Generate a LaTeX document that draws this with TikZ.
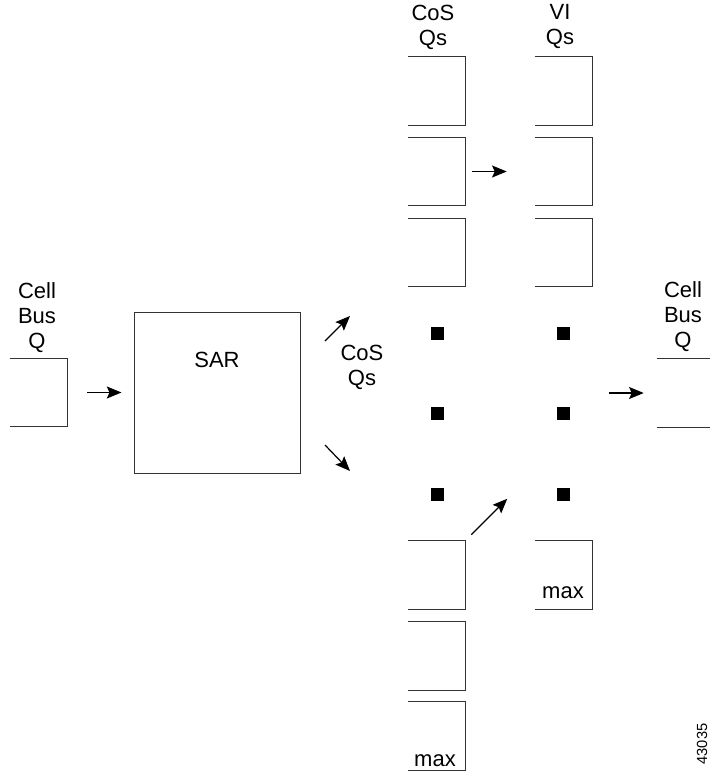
\documentclass[tikz,border=0pt]{standalone}
\usepackage{fontspec}
\setmainfont{Liberation Sans}
\usetikzlibrary{arrows.meta, positioning}
\definecolor{edgecolor}{HTML}{333333}

\begin{document}
\begin{tikzpicture}[
    x=0.75pt, y=-0.75pt,
    every node/.style={font=\fontsize{16.5}{18.75}\selectfont},
    lab/.style={align=center, inner sep=0pt},
    slot/.style={minimum width=42.75pt, minimum height=51pt, inner sep=0pt},
    edge/.style={draw=edgecolor, line width=0.75pt},
    flow/.style={line width=0.9pt, -{Stealth[length=11pt, width=9pt, inset=2pt]}},
    dotbox/.style={fill=black, minimum size=9.75pt, inner sep=0pt},
]
\useasboundingbox (0,0) rectangle (710,772);

% queues, open on the left
\foreach \n/\x/\y in {inq/38.5/392.5, cosA/436.5/91, cosB/436.5/171.5, cosC/436.5/252.5,
    viA/563.5/91, viB/563.5/171.5, viC/563.5/252.5,
    cosD/436.5/575, cosE/436.5/656, cosF/436.5/736, viD/563.5/575}{
    \node[slot] (\n) at (\x, \y) {};
    \draw[edge] (\n.north west) -- (\n.north east) -- (\n.south east) -- (\n.south west);
}
\node[lab, anchor=base] (maxvi) at (563, 598) {max};
\node[lab, anchor=base] (maxcos) at (435, 766) {max};

% outgoing queue, open on both sides
\node[slot, minimum width=39.75pt] (outq) at (683.5, 393) {};
\draw[edge] (outq.north west) -- (outq.north east);
\draw[edge] (outq.south west) -- (outq.south east);

% segmentation box
\node[edge, minimum width=124.5pt, minimum height=120.75pt, inner sep=0pt] (sar) at (217, 392.5) {};
\node[lab] (sartext) at (217, 360) {SAR};

% labels
\node[lab] (inlab) at (37, 318) {Cell\\Bus\\Q};
\node[lab] (outlab) at (683, 317) {Cell\\Bus\\Q};
\node[lab] (coslab) at (433, 27) {CoS\\Qs};
\node[lab] (vilab) at (560, 27) {VI\\Qs};
\node[lab] (midlab) at (362, 367) {CoS\\Qs};

% more queues to come
\foreach \x in {437, 563}{
    \foreach \y in {333, 413, 494}{
        \node[dotbox] (d\x\y) at (\x, \y) {};
    }
}

% cell flow
\coordinate (upA) at (325, 341);
\coordinate (upB) at (350, 316);
\coordinate (dnA) at (325, 445);
\coordinate (dnB) at (350, 471);
\draw[flow] ([xshift=15pt]inq.east) -- ([xshift=-9pt]sar.west);
\draw[flow] (upA) -- (upB);
\draw[flow] (dnA) -- (dnB);
\draw[flow] ([xshift=5.25pt]cosB.east) -- ([xshift=-21pt]viB.west);
\draw[flow] ([shift={(4.5pt,4.5pt)}]cosD.north east) -- ([shift={(31.5pt,31.5pt)}]cosD.north east);
\draw[flow] ([xshift=-36pt]outq.west) -- ([xshift=-9.75pt]outq.west);

\node[rotate=90, inner sep=0pt, font=\fontsize{11}{13}\selectfont] (fignum) at (702, 744) {43035};
\end{tikzpicture}
\end{document}
